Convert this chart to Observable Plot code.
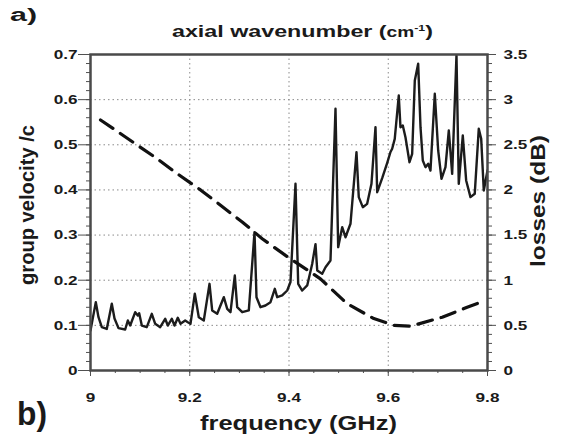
<!DOCTYPE html>
<html><head><meta charset="utf-8">
<script src="https://cdn.jsdelivr.net/npm/d3@7"></script>
<script src="https://cdn.jsdelivr.net/npm/@observablehq/plot@0.6"></script>
<style>html,body{margin:0;padding:0;background:#fff}</style>
</head><body><div id="chart"></div>
<script>
// ---- data ----
const freqTicks = [9, 9.2, 9.4, 9.6, 9.8];
const vgTicks = [0, 0.1, 0.2, 0.3, 0.4, 0.5, 0.6, 0.7];
const lossTicks = [0, 0.5, 1, 1.5, 2, 2.5, 3, 3.5];

// losses (dB) vs frequency (GHz) — solid line
const freqLoss = [9.000,9.0107,9.0161,9.0228,9.0328,9.0429,9.0484,9.0564,9.0699,9.0752,9.0800,9.0901,9.0953,9.0981,9.1034,9.1134,9.1235,9.1304,9.1404,9.1505,9.1558,9.1638,9.1693,9.1759,9.1814,9.1908,9.1961,9.2015,9.2102,9.2182,9.2283,9.2398,9.2452,9.2553,9.2686,9.2755,9.2821,9.2908,9.2956,9.3057,9.3190,9.3305,9.3345,9.3426,9.3526,9.3627,9.3714,9.3762,9.3863,9.3964,9.4030,9.4131,9.4185,9.4266,9.4367,9.4467,9.4534,9.4569,9.4669,9.4736,9.4836,9.4937,9.4991,9.5072,9.5138,9.5239,9.5360,9.5406,9.5487,9.5575,9.5662,9.5743,9.5777,9.5878,9.5979,9.6045,9.6079,9.6131,9.6212,9.6246,9.6293,9.6347,9.6428,9.6482,9.6535,9.6603,9.6650,9.6696,9.6750,9.6805,9.6851,9.6938,9.7006,9.7073,9.7153,9.7220,9.7288,9.7375,9.7421,9.7502,9.7570,9.7657,9.7743,9.7824,9.7873,9.7925,9.8000];
const lossDb = [0.443,0.757,0.59,0.48,0.46,0.739,0.576,0.469,0.454,0.554,0.498,0.646,0.609,0.635,0.498,0.48,0.628,0.517,0.48,0.573,0.498,0.573,0.498,0.584,0.517,0.554,0.535,0.517,0.85,0.59,0.554,0.96,0.665,0.628,0.812,0.683,0.646,1.052,0.701,0.646,0.665,1.532,0.812,0.701,0.72,0.757,0.905,0.812,0.831,0.886,0.98,2.068,0.96,0.886,0.942,1.18,1.40,1.108,1.071,1.144,1.218,2.90,1.366,1.587,1.476,1.625,2.418,1.92,1.809,1.846,2.068,2.695,1.975,2.13,2.30,2.42,2.456,2.566,3.046,2.695,2.714,2.584,2.307,2.40,3.212,3.397,2.695,2.326,2.252,2.29,2.215,3.065,2.437,2.123,2.252,2.658,2.178,3.49,2.068,2.603,2.105,1.92,1.957,2.677,2.566,1.994,2.215];

// group velocity /c vs frequency — dashed line
const freqVg = [9.0202,9.0907,9.1344,9.1747,9.2217,9.2620,9.3057,9.3460,9.3929,9.4634,9.5172,9.5709,9.6112,9.6448,9.7087,9.7590,9.7959];
const vgValues = [0.555,0.502,0.469,0.436,0.400,0.366,0.329,0.292,0.255,0.203,0.148,0.115,0.100,0.098,0.118,0.140,0.155];

const dbPerVg = 5; // right axis 0–3.5 dB spans left axis 0–0.7

// ---- build ----
const fmt = v => String(+(+v).toFixed(2));
const lossRows = freqLoss.map((f, i) => ({f, v: lossDb[i] / dbPerVg}));
const vgRows = freqVg.map((f, i) => ({f, v: vgValues[i]}));
const freqMinor = d3.range(9, 9.8001, 0.05);
const vgMinor = d3.range(0, 0.7001, 0.02);
const tickCol = "#505050";
const lab = {fontSize: 13.5, fontWeight: "bold", label: null};

const svg = Plot.plot({
  width: 563, height: 442,
  marginLeft: 90, marginRight: 76, marginTop: 54, marginBottom: 72,
  style: {fontFamily: "'Liberation Sans', Arial, sans-serif", fontWeight: "bold", color: "#1a1a1a", background: "#fff"},
  x: {domain: [9, 9.8]},
  y: {domain: [0, 0.7]},
  marks: [
    Plot.gridX(freqTicks, {stroke: "#8a8a8a", strokeOpacity: 1, strokeDasharray: "1.5,3"}),
    Plot.gridY(vgTicks, {stroke: "#8a8a8a", strokeOpacity: 1, strokeDasharray: "1.5,3"}),
    Plot.axisX(freqMinor, {tickSize: 3, tickFormat: () => "", stroke: tickCol, label: null}),
    Plot.axisX(freqTicks, {tickSize: 6, tickPadding: 16, tickFormat: fmt, stroke: tickCol, ...lab}),
    Plot.axisY(vgMinor, {anchor: "left", tickSize: 4, tickFormat: () => "", stroke: tickCol, label: null}),
    Plot.axisY(vgTicks, {anchor: "left", tickSize: 12, tickPadding: 1, tickFormat: fmt, stroke: tickCol, ...lab}),
    Plot.axisY(vgMinor, {anchor: "right", tickSize: 4, tickFormat: () => "", stroke: tickCol, label: null}),
    Plot.axisY(lossTicks.map(d => d / dbPerVg), {anchor: "right", tickSize: 8, tickPadding: 8, tickFormat: d => fmt(d * dbPerVg), stroke: tickCol, ...lab}),
    Plot.line(lossRows, {x: "f", y: "v", stroke: "#1c1c1c", strokeWidth: 2.4, clip: true}),
    Plot.line(vgRows, {x: "f", y: "v", stroke: "#111", strokeWidth: 3.2, strokeDasharray: "15,9"}),
    Plot.frame({stroke: "#4a4a4a", strokeWidth: 2.5})
  ]
});
document.getElementById("chart").appendChild(svg);

// horizontal stretch of tick labels (reference is widened)
d3.select(svg).selectAll("g[aria-label$='tick label'] text").each(function() {
  const L = this.getComputedTextLength();
  if (L > 0) { this.setAttribute("textLength", L * 1.27); this.setAttribute("lengthAdjust", "spacingAndGlyphs"); }
});

const S = d3.select(svg);
const ff = "'Liberation Sans', Arial, sans-serif";
function addText(txt, x, y, size, len, rot) {
  const t = S.append("text").attr("font-family", ff).attr("font-weight", "bold")
    .attr("font-size", size).attr("fill", "#1a1a1a").attr("text-anchor", "middle")
    .attr("transform", `translate(${x},${y})` + (rot ? ` rotate(${rot})` : ""));
  t.text(txt);
  if (len) t.attr("textLength", len).attr("lengthAdjust", "spacingAndGlyphs");
  return t;
}
// top title with superscript
const title = S.append("text").attr("font-family", ff).attr("font-weight", "bold")
  .attr("text-anchor", "start")
  .attr("fill", "#1a1a1a").attr("x", 172).attr("y", 37).attr("font-size", 17)
  .attr("textLength", 261).attr("lengthAdjust", "spacingAndGlyphs");
title.append("tspan").text("axial wavenumber (");
title.append("tspan").attr("font-size", 14).text("cm");
title.append("tspan").attr("font-size", 9).attr("dy", -6).text("-1");
title.append("tspan").attr("dy", 6).text(")");

addText("frequency (GHz)", 298.5, 430, 21, 197);
addText("group velocity /c", 34, 205, 20, 160, -90);
addText("losses (dB)", 545, 201, 21, 132, -90);

// panel letters
S.append("text").attr("font-family", ff).attr("font-weight", "bold").attr("text-anchor", "start")
  .attr("font-size", 18).attr("fill", "#1a1a1a").attr("x", 10).attr("y", 21)
  .attr("textLength", 27).attr("lengthAdjust", "spacingAndGlyphs").text("a)");
S.append("text").attr("font-family", ff).attr("font-weight", "bold").attr("text-anchor", "start")
  .attr("font-size", 34).attr("fill", "#1a1a1a").attr("x", 17).attr("y", 425)
  .attr("textLength", 30).attr("lengthAdjust", "spacingAndGlyphs").text("b)");
</script>
</body></html>
